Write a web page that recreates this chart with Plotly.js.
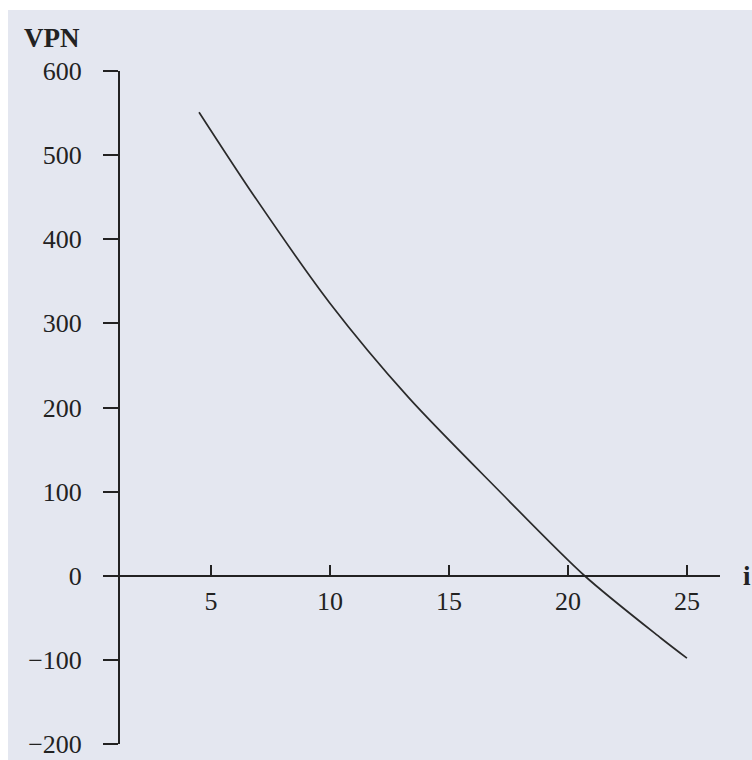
<!DOCTYPE html>
<html>
<head>
<meta charset="utf-8">
<script src="https://cdn.plot.ly/plotly-3.0.1.min.js"></script>
<style>html,body{margin:0;padding:0;background:#fff;}#chart{width:752px;height:760px;}</style>
</head>
<body>
<div id="chart"></div>
<script>
// Interest rate i (%) and net present value VPN
const rates = [4.5, 6.8, 10.0, 13.3, 17.0, 20.7, 23.9, 25.0];
const vpn   = [551, 452, 324, 212, 104, 0, -74, -98];
const xTicks = [5, 10, 15, 20, 25];
const yTicks = [-200, -100, 0, 100, 200, 300, 400, 500, 600];

const serif = 'Liberation Serif, Times New Roman, serif';
const ink = '#222';

const trace = {
  x: rates, y: vpn, type: 'scatter', mode: 'lines',
  line: {color: '#2a2a2a', width: 1.7, shape: 'spline', smoothing: 0.8},
  hoverinfo: 'skip', showlegend: false
};

const PH = 673; // plot height in px (for paper-coordinate placement of decorations)

const layout = {
  width: 752, height: 760,
  paper_bgcolor: '#ffffff', plot_bgcolor: 'rgba(0,0,0,0)',
  margin: {l: 120, r: 32, t: 71, b: 16},
  font: {family: serif, color: ink, size: 26},
  xaxis: {
    range: [1.18, 26.39], anchor: 'free', position: 0.25,
    showline: true, linecolor: ink, linewidth: 2,
    ticks: 'inside', ticklen: 10, tickwidth: 2, tickcolor: ink,
    tickvals: xTicks, ticktext: xTicks.map(String),
    showgrid: false, zeroline: false, fixedrange: true,
    tickfont: {family: serif, size: 26, color: ink}, ticklabelstandoff: 2
  },
  yaxis: {
    range: [-200, 600],
    showline: true, linecolor: ink, linewidth: 2,
    ticks: 'outside', ticklen: 15, tickwidth: 2, tickcolor: ink,
    tickvals: yTicks, ticktext: yTicks.map(v => v < 0 ? '\u2212' + Math.abs(v) : String(v)),
    showgrid: false, zeroline: false, fixedrange: true, ticklabeloverflow: 'allow',
    tickfont: {family: serif, size: 26, color: ink}, ticklabelstandoff: 16
  },
  shapes: [{
    type: 'rect', xref: 'paper', yref: 'paper', layer: 'below',
    x0: -112/600, x1: 632/600, y0: -16/PH, y1: (PH + 61)/PH,
    fillcolor: '#e4e7f0', line: {width: 0}
  }],
  annotations: [
    {text: '<b>VPN</b>', xref: 'paper', yref: 'paper', x: -98/600, y: (PH + 33)/PH,
     xanchor: 'left', yanchor: 'middle', showarrow: false,
     font: {family: serif, size: 27, color: ink}},
    {text: '<b>i</b>', xref: 'paper', yref: 'paper', x: 627/600, y: 0.25,
     xanchor: 'center', yanchor: 'middle', showarrow: false,
     font: {family: serif, size: 27, color: ink}}
  ]
};

Plotly.newPlot('chart', [trace], layout, {displayModeBar: false, staticPlot: true});
</script>
</body>
</html>
